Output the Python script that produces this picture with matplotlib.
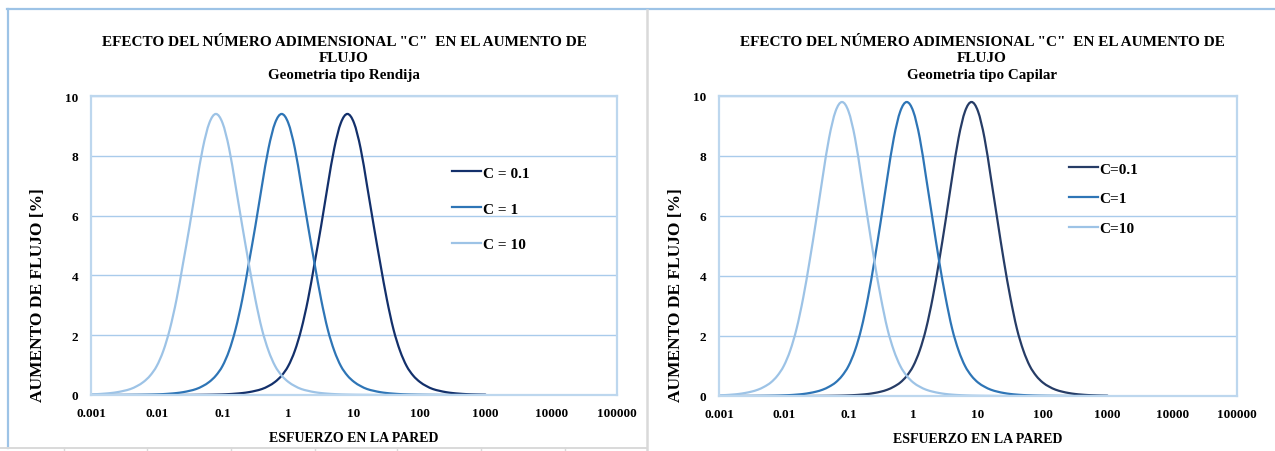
import matplotlib

matplotlib.use("Agg")
import matplotlib.pyplot as plt
import numpy as np
from matplotlib.lines import Line2D
from matplotlib.patches import PathPatch
from matplotlib.path import Path
from matplotlib.ticker import NullLocator

SERIF = "Liberation Serif"
NAVY_L = "#13306b"   # C = 0.1, left panel
NAVY_R = "#263c66"   # C = 0.1, right panel (a bit greyer)
MID = "#2e75b6"      # C = 1
LIGHT = "#9dc3e6"    # C = 10
GRID = "#a9cbeb"
FRAME = "#bdd7ee"

W, H = 1275, 452

# wall shear stress grid, 0.1 decade steps (0.001 .. 1000)
esfuerzo = [
    0.001, 0.00126, 0.00158, 0.002, 0.00251, 0.00316, 0.00398, 0.00501, 0.00631, 0.00794,
    0.01, 0.0126, 0.0158, 0.02, 0.0251, 0.0316, 0.0398, 0.0501, 0.0631, 0.0794,
    0.1, 0.126, 0.158, 0.2, 0.251, 0.316, 0.398, 0.501, 0.631, 0.794,
    1, 1.26, 1.58, 2, 2.51, 3.16, 3.98, 5.01, 6.31, 7.94,
    10, 12.6, 15.8, 20, 25.1, 31.6, 39.8, 50.1, 63.1, 79.4,
    100, 126, 158, 200, 251, 316, 398, 501, 631, 794, 1000,
]

# --- Geometria tipo Rendija (flow increase, %)
rend_c01 = [
    0, 0, 0, 0, 0, 0, 0, 0, 0, 0,
    0, 0, 0, 0.001, 0.002, 0.003, 0.005, 0.007, 0.01, 0.014,
    0.02, 0.03, 0.045, 0.065, 0.095, 0.14, 0.20, 0.30, 0.44, 0.65,
    0.97, 1.48, 2.20, 3.20, 4.40, 5.65, 7.00, 8.25, 9.10, 9.40,
    9.10, 8.25, 7.00, 5.65, 4.40, 3.20, 2.20, 1.48, 0.97, 0.65,
    0.44, 0.30, 0.20, 0.14, 0.095, 0.065, 0.045, 0.03, 0.02, 0.014, 0.01,
]
rend_c1 = [
    0, 0, 0, 0.001, 0.002, 0.003, 0.005, 0.007, 0.01, 0.014,
    0.02, 0.03, 0.045, 0.065, 0.095, 0.14, 0.20, 0.30, 0.44, 0.65,
    0.97, 1.48, 2.20, 3.20, 4.40, 5.65, 7.00, 8.25, 9.10, 9.40,
    9.10, 8.25, 7.00, 5.65, 4.40, 3.20, 2.20, 1.48, 0.97, 0.65,
    0.44, 0.30, 0.20, 0.14, 0.095, 0.065, 0.045, 0.03, 0.02, 0.014,
    0.01, 0.007, 0.005, 0.003, 0.002, 0.001, 0, 0, 0, 0, 0,
]
rend_c10 = [
    0.02, 0.03, 0.045, 0.065, 0.095, 0.14, 0.20, 0.30, 0.44, 0.65,
    0.97, 1.48, 2.20, 3.20, 4.40, 5.65, 7.00, 8.25, 9.10, 9.40,
    9.10, 8.25, 7.00, 5.65, 4.40, 3.20, 2.20, 1.48, 0.97, 0.65,
    0.44, 0.30, 0.20, 0.14, 0.095, 0.065, 0.045, 0.03, 0.02, 0.014,
    0.01, 0.007, 0.005, 0.003, 0.002, 0.001, 0, 0, 0, 0,
    0, 0, 0, 0, 0, 0, 0, 0, 0, 0, 0,
]

# --- Geometria tipo Capilar
cap_c01 = [
    0, 0, 0, 0, 0, 0, 0, 0, 0, 0,
    0, 0, 0, 0.001, 0.002, 0.003, 0.005, 0.007, 0.01, 0.014,
    0.021, 0.031, 0.046, 0.067, 0.10, 0.145, 0.21, 0.31, 0.45, 0.67,
    1.00, 1.52, 2.25, 3.28, 4.50, 5.85, 7.28, 8.60, 9.49, 9.80,
    9.49, 8.60, 7.28, 5.85, 4.50, 3.28, 2.25, 1.52, 1.00, 0.67,
    0.45, 0.31, 0.21, 0.145, 0.10, 0.067, 0.046, 0.031, 0.021, 0.014, 0.01,
]
cap_c1 = [
    0, 0, 0, 0.001, 0.002, 0.003, 0.005, 0.007, 0.01, 0.014,
    0.021, 0.031, 0.046, 0.067, 0.10, 0.145, 0.21, 0.31, 0.45, 0.67,
    1.00, 1.52, 2.25, 3.28, 4.50, 5.85, 7.28, 8.60, 9.49, 9.80,
    9.49, 8.60, 7.28, 5.85, 4.50, 3.28, 2.25, 1.52, 1.00, 0.67,
    0.45, 0.31, 0.21, 0.145, 0.10, 0.067, 0.046, 0.031, 0.021, 0.014,
    0.01, 0.007, 0.005, 0.003, 0.002, 0.001, 0, 0, 0, 0, 0,
]
cap_c10 = [
    0.021, 0.031, 0.046, 0.067, 0.10, 0.145, 0.21, 0.31, 0.45, 0.67,
    1.00, 1.52, 2.25, 3.28, 4.50, 5.85, 7.28, 8.60, 9.49, 9.80,
    9.49, 8.60, 7.28, 5.85, 4.50, 3.28, 2.25, 1.52, 1.00, 0.67,
    0.45, 0.31, 0.21, 0.145, 0.10, 0.067, 0.046, 0.031, 0.021, 0.014,
    0.01, 0.007, 0.005, 0.003, 0.002, 0.001, 0, 0, 0, 0,
    0, 0, 0, 0, 0, 0, 0, 0, 0, 0, 0,
]

labels_rend = ["C = 0.1", "C = 1", "C = 10"]
labels_cap = ["C=0.1", "C=1", "C=10"]
xticks = [0.001, 0.01, 0.1, 1, 10, 100, 1000, 10000, 100000]
xtick_labels = ["0.001", "0.01", "0.1", "1", "10", "100", "1000", "10000", "100000"]
yticks = [0, 2, 4, 6, 8, 10]

TITLE = 'EFECTO DEL NÚMERO ADIMENSIONAL "C"  EN EL AUMENTO DE'


def fx(px):
    return px / W


def fy(py):
    return 1 - py / H


def smooth_path(x, y):
    # Excel-style "smoothed line": cubic Bezier through the data points,
    # control points taken in log10(x) space so it bends like on screen
    lx = np.log10(x)
    y = np.asarray(y, float)
    n = len(lx)
    verts = [(x[0], y[0])]
    codes = [Path.MOVETO]
    for i in range(n - 1):
        i0, i3 = max(i - 1, 0), min(i + 2, n - 1)
        c1x = lx[i] + (lx[i + 1] - lx[i0]) / 6
        c1y = y[i] + (y[i + 1] - y[i0]) / 6
        c2x = lx[i + 1] - (lx[i3] - lx[i]) / 6
        c2y = y[i + 1] - (y[i3] - y[i]) / 6
        verts += [(10 ** c1x, c1y), (10 ** c2x, c2y), (x[i + 1], y[i + 1])]
        codes += [Path.CURVE4] * 3
    return Path(verts, codes)


def panel(rect, series, colors, labels, subtitle, title_x, leg_xy, leg_space, ylab_x):
    ax = fig.add_axes(rect)
    handles = []
    for y, c, lab in zip(series, colors, labels):
        ax.add_patch(PathPatch(smooth_path(esfuerzo, y), facecolor="none",
                               edgecolor=c, lw=1.6, capstyle="round"))
        handles.append(Line2D([], [], color=c, lw=1.6, label=lab))
    ax.set_xscale("log")
    ax.set_xlim(0.001, 100000)
    ax.set_ylim(0, 10)
    ax.set_xticks(xticks)
    ax.set_xticklabels(xtick_labels)
    ax.xaxis.set_minor_locator(NullLocator())
    ax.set_yticks(yticks)
    ax.tick_params(length=0, labelsize=9.5)
    ax.tick_params(axis="x", pad=9)
    ax.tick_params(axis="y", pad=9)
    for t in ax.get_xticklabels() + ax.get_yticklabels():
        t.set_fontfamily(SERIF)
        t.set_fontweight("bold")
    ax.grid(axis="y", color=GRID, lw=1.0)
    ax.set_axisbelow(True)
    for sp in ax.spines.values():
        sp.set_color(FRAME)
        sp.set_linewidth(1.6)
    ax.set_xlabel("ESFUERZO EN LA PARED", fontfamily=SERIF, fontweight="bold",
                  fontsize=10, labelpad=8)
    ax.set_ylabel("AUMENTO DE FLUJO [%]", fontfamily=SERIF, fontweight="bold",
                  fontsize=12.5)
    # y-label sits low in the reference, centred near y px 295
    ax.yaxis.set_label_coords(fx(ylab_x), fy(295), transform=fig.transFigure)
    ax.legend(handles=handles, loc="upper left",
              bbox_to_anchor=(fx(leg_xy[0]), fy(leg_xy[1])),
              bbox_transform=fig.transFigure, frameon=False, borderpad=0,
              borderaxespad=0, handlelength=1.9, handletextpad=0.1,
              labelspacing=leg_space,
              prop=dict(family=SERIF, weight="bold", size=11))
    fig.text(fx(title_x), fy(42), TITLE, ha="center", va="center",
             fontfamily=SERIF, fontweight="bold", fontsize=11)
    fig.text(fx(title_x), fy(59), "FLUJO", ha="center", va="center",
             fontfamily=SERIF, fontweight="bold", fontsize=11)
    fig.text(fx(title_x), fy(76), subtitle, ha="center", va="center",
             fontfamily=SERIF, fontweight="bold", fontsize=10.8)
    return ax


fig = plt.figure(figsize=(W / 100, H / 100), dpi=100)

# sheet / chart-object frames
fig.add_artist(Line2D([fx(7), 1], [fy(10), fy(10)], color="#9dc3e6", lw=1.6))
fig.add_artist(Line2D([fx(8), fx(8)], [fy(10), fy(449)], color="#9dc3e6", lw=1.6))
fig.add_artist(Line2D([fx(647), fx(647)], [fy(11), 0], color="#d9d9d9", lw=1.8))
fig.add_artist(Line2D([0, fx(647)], [fy(449), fy(449)], color="#d9d9d9", lw=1.4))
for px in (64, 147, 231, 315, 397, 481, 565):
    fig.add_artist(Line2D([fx(px), fx(px)], [fy(449), 0], color="#d9d9d9", lw=1.0))

panel([fx(91), fy(396), fx(617 - 91), (396 - 97) / H],
      [rend_c01, rend_c1, rend_c10], [NAVY_L, MID, LIGHT], labels_rend,
      "Geometria tipo Rendija", 344, (452, 167), 1.45, 46)
panel([fx(719), fy(397), fx(1237 - 719), (397 - 97) / H],
      [cap_c01, cap_c1, cap_c10], [NAVY_R, MID, LIGHT], labels_cap,
      "Geometria tipo Capilar", 982, (1069, 163), 1.05, 684)

fig.savefig("out.png", dpi=100)
